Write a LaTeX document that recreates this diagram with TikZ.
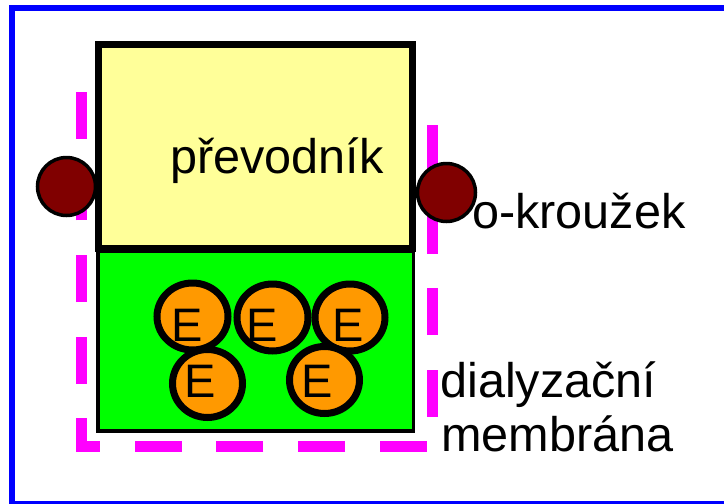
\documentclass[tikz,border=0pt]{standalone}
\usepackage{fontspec}
\setmainfont{Liberation Sans}
\definecolor{frameblue}{HTML}{0000FF}
\definecolor{boxyellow}{HTML}{FFFF99}
\definecolor{boxgreen}{HTML}{00FF00}
\definecolor{enzorange}{HTML}{FF9900}
\definecolor{ringred}{HTML}{800000}
\definecolor{dashmag}{HTML}{FF00FF}
\begin{document}
\begin{tikzpicture}[x=1pt,y=-1pt,
  enzyme/.style={draw=black,line width=7pt,fill=enzorange},
  ring/.style={draw=black,line width=3.5pt,fill=ringred},
  lbl/.style={inner sep=0pt,anchor=base west,font=\fontsize{48.6}{54}\selectfont},
  elbl/.style={inner sep=0pt,anchor=base,font=\fontsize{47}{54}\selectfont}]
\useasboundingbox (0,0) rectangle (724,504);
\fill[white] (0,0) rectangle (724,504);
% blue frame
\draw[frameblue,line width=6pt] (12,8) rectangle (740,504);
% magenta dashed membrane outline
\draw[dashmag,line width=11pt,dash pattern=on 47pt off 34.7pt,miter limit=10]
  (432,125) -- (432,446.5) -- (81,446.5) -- (81,90);
% transducer
\draw[black,line width=7pt,fill=boxyellow] (98.5,44.5) rectangle (412,248);
% membrane compartment
\draw[black,line width=3.5pt,fill=boxgreen] (98,251.5) rectangle (413.5,431);
% enzymes
\draw[enzyme] (192.5,316.5) ellipse (35.5pt and 33.5pt);
\draw[enzyme] (272.5,317.5) ellipse (35.5pt and 33.5pt);
\draw[enzyme] (350,317.5) ellipse (35pt and 33.5pt);
\draw[enzyme] (207.5,383.5) ellipse (35pt and 34pt);
\draw[enzyme] (324.5,380) ellipse (35pt and 33.5pt);
\node[elbl] (e1) at (187,341.7) {E};
\node[elbl] (e2) at (261.7,341.7) {E};
\node[elbl] (e3) at (348.5,341.7) {E};
\node[elbl] (e4) at (200.5,397.7) {E};
\node[elbl] (e5) at (317,397.7) {E};
% o-rings
\draw[ring] (66.5,186.5) circle (29pt);
\draw[ring] (446.5,192.5) circle (29pt);
% labels
\node[lbl] (prevodnik) at (170,173) {převodník};
\node[lbl] (okrouzek) at (472,228) {o-kroužek};
\node[lbl] (dialyz) at (440,397) {dialyzační};
\node[lbl] (membr) at (441,451) {membrána};
\end{tikzpicture}
\end{document}
